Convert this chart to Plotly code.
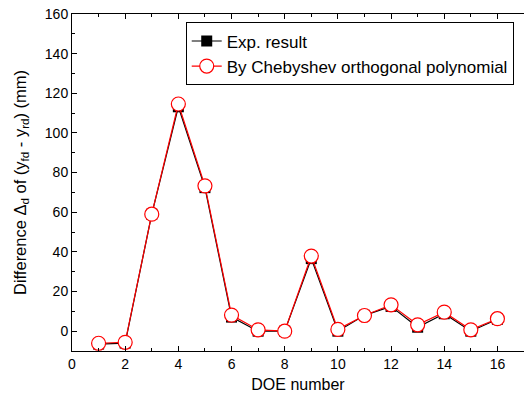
import plotly.graph_objects as go

doe = list(range(1, 17))
exp_result = [-6.5, -6.0, 59.0, 113.2, 72.4, 7.1, 0.0, 0.0, 36.6, 0.0, 8.0, 12.5, 2.0, 8.8, 0.0, 6.0]
chebyshev = [-6.1, -5.6, 59.0, 114.6, 73.3, 8.1, 0.7, 0.0, 37.9, 0.9, 7.9, 13.3, 3.2, 9.6, 0.7, 6.3]

fig = go.Figure()
fig.add_trace(go.Scatter(
    x=doe, y=exp_result, name="Exp. result", mode="lines+markers",
    line=dict(color="black", width=1.2),
    marker=dict(symbol="square", size=11, color="black"),
))
fig.add_trace(go.Scatter(
    x=doe, y=chebyshev, name="By Chebyshev orthogonal polynomial", mode="lines+markers",
    line=dict(color="red", width=1.2),
    marker=dict(symbol="circle", size=14, color="white", line=dict(color="red", width=1.2)),
))

font_family = "Liberation Sans, Arial, sans-serif"
fig.update_layout(
    width=524, height=400,
    margin=dict(l=72, r=0, t=14, b=49),
    plot_bgcolor="white", paper_bgcolor="white",
    font=dict(family=font_family, size=14, color="black"),
    showlegend=True,
    legend=dict(
        x=0.2516, y=0.975, xanchor="left", yanchor="top",
        bordercolor="black", borderwidth=1, bgcolor="white",
        font=dict(size=17, family=font_family), tracegroupgap=0,
    ),
    xaxis=dict(
        range=[0, 17], tickvals=[0, 2, 4, 6, 8, 10, 12, 14, 16],
        showline=True, linecolor="black", linewidth=1, mirror="allticks",
        ticks="inside", ticklen=5, tickcolor="black",
        minor=dict(ticks="inside", ticklen=3, dtick=1, tickcolor="black"),
        showgrid=False, zeroline=False,
        title=dict(text="DOE number", font=dict(size=16), standoff=8),
        tickfont=dict(size=14),
    ),
    yaxis=dict(
        range=[-10, 160], tickvals=[0, 20, 40, 60, 80, 100, 120, 140, 160],
        showline=True, linecolor="black", linewidth=1, mirror=False,
        ticks="inside", ticklen=5, tickcolor="black",
        minor=dict(ticks="inside", ticklen=3, dtick=10, tick0=0, tickcolor="black"),
        showgrid=False, zeroline=False,
        title=dict(text="Difference \u0394<sub>d</sub> of (y<sub>fd</sub> - y<sub>rd</sub>) (mm)",
                   font=dict(size=16.5), standoff=14),
        tickfont=dict(size=14),
    ),
)

fig.write_html("out.html")
